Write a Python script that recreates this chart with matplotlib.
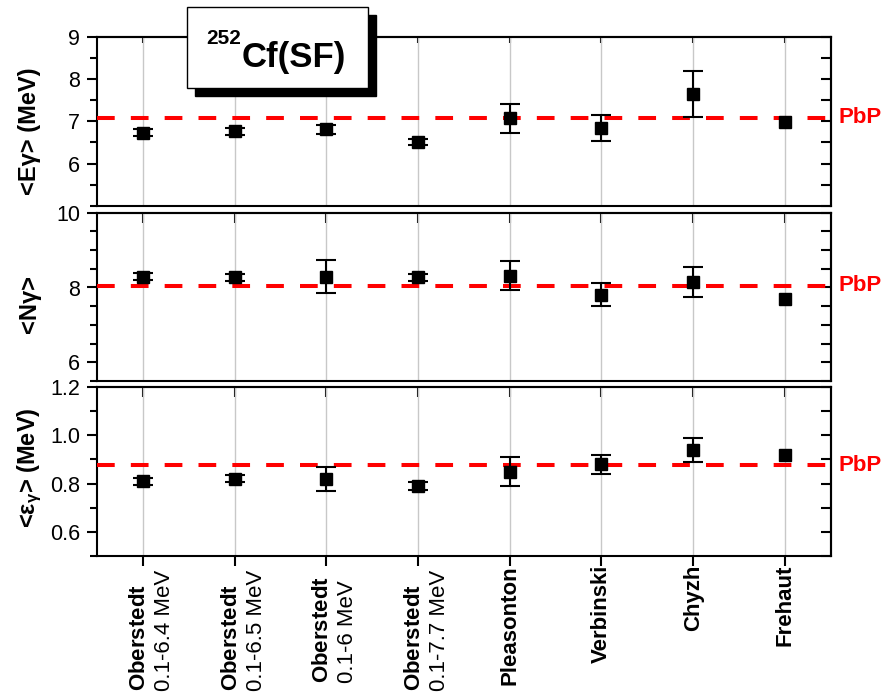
import numpy as np
import matplotlib
matplotlib.use("Agg")
import matplotlib.pyplot as plt
import matplotlib.transforms as mtransforms
from matplotlib.patches import Rectangle
from matplotlib.ticker import MultipleLocator, NullFormatter

plt.rcParams["font.family"] = ["Liberation Sans", "DejaVu Sans"]
plt.rcParams["mathtext.fontset"] = "custom"
plt.rcParams["mathtext.rm"] = "Liberation Sans"
plt.rcParams["mathtext.bf"] = "Liberation Sans:bold"
plt.rcParams["mathtext.it"] = "Liberation Sans:italic"

# data
names = ["Oberstedt", "Oberstedt", "Oberstedt", "Oberstedt",
         "Pleasonton", "Verbinski", "Chyzh", "Frehaut"]
ranges = ["0.1-6.4 MeV", "0.1-6.5 MeV", "0.1-6 MeV", "0.1-7.7 MeV", "", "", "", ""]

e_gamma = [6.73, 6.76, 6.81, 6.50, 7.07, 6.84, 7.65, 6.99]
e_gamma_err = [0.08, 0.08, 0.10, 0.07, 0.35, 0.30, 0.55, np.nan]
n_gamma = [8.29, 8.27, 8.29, 8.27, 8.32, 7.81, 8.15, 7.70]
n_gamma_err = [0.10, 0.10, 0.44, 0.10, 0.40, 0.30, 0.40, np.nan]
eps_gamma = [0.81, 0.82, 0.82, 0.79, 0.85, 0.88, 0.94, 0.92]
eps_gamma_err = [0.015, 0.015, 0.05, 0.015, 0.06, 0.04, 0.05, np.nan]
pbp_values = [7.08, 8.05, 0.875]

e_ticks = [6, 7, 8, 9]
n_ticks = [6, 8, 10]
eps_ticks = [0.6, 0.8, 1.0, 1.2]

ylabels = ["<Eγ> (MeV)", "<Nγ>", "<ε$_{\\mathregular{γ}}$> (MeV)"]

W, H = 883, 695
fig = plt.figure(figsize=(W / 100, H / 100), dpi=100)

# panel geometry in pixels (top, bottom)
left, right = 97, 830.7
panels = [
    dict(top=37, bot=205.7, ylim=(5, 9), ticks=e_ticks, minor=0.5, rstep=0.5,
         y=e_gamma, err=e_gamma_err, fmt="%d", toplen=4, lab_y=131),
    dict(top=212.7, bot=381, ylim=(5.5, 10), ticks=n_ticks, minor=0.5, rstep=0.5,
         y=n_gamma, err=n_gamma_err, fmt="%d", toplen=7, lab_y=304),
    dict(top=387.3, bot=555.7, ylim=(0.5, 1.2), ticks=eps_ticks, minor=0.1, rstep=0.1,
         y=eps_gamma, err=eps_gamma_err, fmt="%.1f", toplen=7, lab_y=468),
]

x = np.arange(len(names))
axes = []
for k, p in enumerate(panels):
    ax = fig.add_axes([left / W, 1 - p["bot"] / H, (right - left) / W, (p["bot"] - p["top"]) / H])
    axes.append(ax)
    ax.set_xlim(-0.5, len(names) - 0.5)
    ax.set_ylim(*p["ylim"])
    for s in ax.spines.values():
        s.set_linewidth(1.5)

    ax.set_xticks(x)
    ax.grid(axis="x", color="#c8c8c8", lw=1)
    last = k == len(panels) - 1
    ax.tick_params(axis="x", bottom=last, labelbottom=False, direction="out",
                   length=7, width=1.5)
    sx = ax.secondary_xaxis("top")
    sx.set_xticks(x)
    sx.tick_params(axis="x", direction="in", length=p["toplen"], width=1.5, labeltop=False)
    sx.spines["top"].set_linewidth(1.5)

    ax.set_yticks(p["ticks"])
    ax.yaxis.set_minor_locator(MultipleLocator(p["minor"]))
    ax.yaxis.set_major_formatter(plt.FormatStrFormatter(p["fmt"]))
    ax.tick_params(axis="y", which="major", direction="out", length=7, width=1.5,
                   pad=5, labelsize=15.5)
    ax.tick_params(axis="y", which="minor", direction="out", length=5, width=1.5)
    sy = ax.secondary_yaxis("right")
    sy.yaxis.set_major_locator(MultipleLocator(p["rstep"]))
    sy.yaxis.set_major_formatter(NullFormatter())
    sy.tick_params(axis="y", direction="in", length=7, width=1.5)
    sy.spines["right"].set_linewidth(1.5)

    ax.axhline(pbp_values[k], color="#ff0000", lw=2.9, dashes=(4.4, 4.0), zorder=3)
    ax.errorbar(x, p["y"], yerr=p["err"], fmt="s", color="black", ms=9,
                elinewidth=1.5, capsize=7, capthick=1.5, zorder=4)
    trans = mtransforms.blended_transform_factory(ax.transAxes, ax.transData)
    ax.text(1.011, pbp_values[k], "PbP", transform=trans, color="#ff0000",
            fontweight="bold", fontsize=16, ha="left", va="center")

    fig.text(29.5 / W, 1 - p["lab_y"] / H, ylabels[k], rotation=90, ha="center",
             va="center", fontsize=17, fontweight="bold")

# category labels under the bottom panel
ax = axes[-1]
trans = mtransforms.blended_transform_factory(ax.transData, ax.transAxes)
bot_h = panels[-1]["bot"] - panels[-1]["top"]
for i, (name, rng) in enumerate(zip(names, ranges)):
    if rng:
        s = "$\\mathbf{" + name + "}$\n" + rng
        ax.text(i + 0.1, (panels[-1]["bot"] - 630) / bot_h, s, transform=trans,
                rotation=90, ha="center", va="center", multialignment="left",
                fontsize=16, linespacing=1.25)
    else:
        ax.text(i, (panels[-1]["bot"] - 565) / bot_h, name, transform=trans,
                rotation=90, ha="center", va="top", fontsize=16, fontweight="bold")

# title box with drop shadow
bx0, bx1, by0, by1 = 186.7, 368.3, 7.3, 87.7
sh = 8
fig.patches.append(Rectangle(((bx0 + sh) / W, 1 - (by1 + sh) / H), (bx1 - bx0) / W,
                             (by1 - by0) / H, transform=fig.transFigure,
                             facecolor="black", edgecolor="black", zorder=10))
fig.patches.append(Rectangle((bx0 / W, 1 - by1 / H), (bx1 - bx0) / W, (by1 - by0) / H,
                             transform=fig.transFigure, facecolor="white",
                             edgecolor="black", lw=1, zorder=11))
fig.text(242 / W, 1 - 66.7 / H, "Cf(SF)", fontsize=25, fontweight="bold",
         ha="left", va="baseline", zorder=12)
fig.text(241 / W, 1 - 44 / H, "252", fontsize=15, fontweight="bold",
         ha="right", va="baseline", zorder=12)

fig.savefig("out.png", dpi=100)
